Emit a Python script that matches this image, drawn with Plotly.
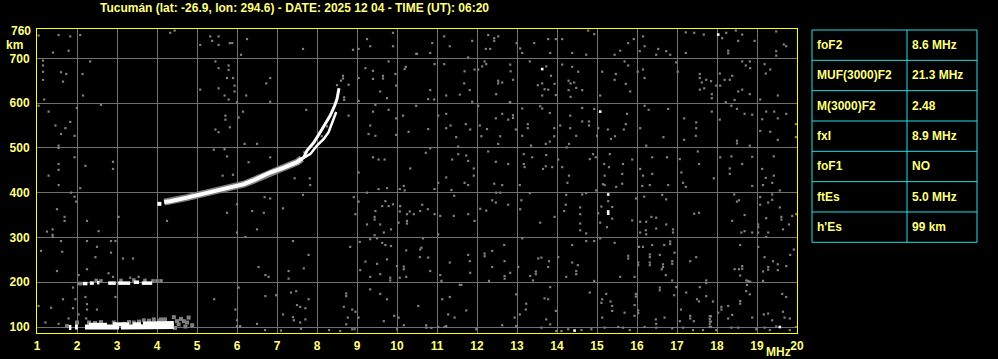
import plotly.graph_objects as go

TITLE = "Tucumán (lat: -26.9, lon: 294.6) - DATE: 2025 12 04 - TIME (UT): 06:20"
FREQ_TICKS = list(range(1, 21))
HEIGHT_TICKS = [100, 200, 300, 400, 500, 600, 700]
TOP_LABEL = "760"
Y_UNIT = "km"
X_UNIT = "MHz"

PARAM_NAMES = ["foF2", "MUF(3000)F2", "M(3000)F2", "fxI", "foF1", "ftEs", "h'Es"]
PARAM_VALUES = ["8.6 MHz", "21.3 MHz", "2.48", "8.9 MHz", "NO", "5.0 MHz", "99 km"]

# F-layer trace (lower thick part), ordinary upper branch, extraordinary branch
F_LOW_FREQ = [4.18, 4.33, 4.75, 5.08, 5.5, 5.83, 6.17, 6.42, 6.83, 7.17, 7.5, 7.62]
F_LOW_H = [379, 381, 389, 396, 404, 411, 419, 428, 445, 456, 468, 476]
F_START_FREQ = [4.06]
F_START_H = [375]
F_O_FREQ = [7.55, 7.67, 7.75, 7.92, 8.08, 8.21, 8.33, 8.44, 8.5, 8.55]
F_O_H = [471, 479, 494, 512, 535, 553, 572, 594, 609, 633]
F_X_FREQ = [7.6, 7.83, 8.0, 8.17, 8.29, 8.42, 8.48]
F_X_H = [474, 486, 505, 520, 535, 564, 580]

# Sporadic E trace (white band), upper part, and its grey halo
E_LOW_FREQ = [1.8, 1.86, None, 1.95, 2.02, None, 2.2, 3.05, None, 3.1, 4.42]
E_LOW_H = [99, 99, None, 100, 100, None, 100, 100, None, 100, 101]
E_UP_FREQ = [2.3, 2.75, None, 2.9, 3.3, None, 3.4, 3.6, None, 3.65, 4.42]
E_UP_H = [105, 105, None, 106, 106, None, 106, 106, None, 108, 109]
E_GRAY_FREQ = [1.75, 2.0, 2.3, 2.6, 2.92, 3.17, 3.42, 3.67, 3.92, 4.2, 4.42, 4.54, 4.67, 4.71,
               4.79, 4.88, 4.5, 4.6, 4.75, 4.45, 3.8, 4.05, 2.45, 3.55, 3.3, 4.1]
E_GRAY_H = [102, 110, 110, 111, 110, 107, 110, 115, 117, 117, 122, 106, 113, 101,
            121, 104, 113, 118, 110, 98, 114, 114, 109, 112, 111, 117]

# Second-hop Es trace near 200 km
ES2_FREQ = [2.15, 2.26, None, 2.32, 2.42, None, 2.5, 2.56, None, 2.78, 2.97, None,
            3.03, 3.33, None, 3.42, 3.55, None, 3.62, 3.88]
ES2_H = [197, 197, None, 198, 198, None, 199, 199, None, 198, 198, None,
         198, 198, None, 200, 200, None, 198, 198]
ES2_GRAY_FREQ = [2.05, 2.1, 2.6, 3.1, 3.7, 3.9, 4.0, 4.1, 2.48, 3.42]
ES2_GRAY_H = [197, 197, 203, 204, 204, 203, 203, 203, 204, 205]

NOISE_UPPER_LEFT = [
    (1.04, 751), (1.54, 752), (1.83, 749), (2.08, 752), (1.4, 713), (1.79, 717), (1.15, 695),
    (1.15, 684), (1.15, 670), (1.6, 669), (1.73, 665), (2.14, 665), (2.33, 693), (1.15, 652),
    (1.65, 648), (2.15, 617), (1.18, 608), (1.04, 594), (1.29, 581), (2.0, 589), (2.6, 596),
    (1.83, 558), (1.46, 550), (1.71, 544), (1.6, 531), (1.94, 527), (1.54, 505), (1.54, 500),
    (1.94, 479), (1.54, 464), (1.54, 451), (2.21, 460), (2.9, 469), (2.9, 453), (1.29, 438),
    (4.33, 757), (4.44, 762), (5.08, 730), (5.33, 749), (5.54, 749), (5.38, 739), (5.54, 730),
    (5.82, 734), (5.88, 734), (6.1, 708), (6.25, 743), (5.46, 693), (5.79, 684), (5.79, 674),
    (5.54, 678), (5.75, 656), (5.9, 656), (5.94, 639), (5.94, 626), (5.54, 633), (5.08, 630),
    (5.69, 617), (5.79, 608), (6.0, 602), (6.23, 617), (6.73, 644), (6.83, 656), (6.83, 603),
    (7.65, 721), (6.15, 581), (6.04, 568), (5.71, 572), (5.71, 563), (5.82, 546), (5.54, 535),
    (5.46, 541), (6.19, 509), (6.5, 509), (5.42, 496), (5.69, 497), (5.75, 481), (6.29, 468),
    (6.83, 479), (5.64, 438), (5.9, 440), (7.82, 432), (7.44, 432), (7.73, 585), (8.65, 661),
    (8.65, 655), (8.79, 641), (8.68, 613), (8.68, 607), (8.79, 572), (8.9, 719), (9.04, 721),
    (9.25, 743), (9.33, 727), (9.9, 757), (9.9, 727), (10.5, 710), (9.79, 693), (9.21, 678),
    (9.4, 672), (9.4, 654), (9.65, 661), (9.65, 655), (9.96, 665), (10.19, 676), (10.22, 681),
    (9.04, 656), (9.58, 626), (9.75, 611), (9.98, 639), (9.04, 605), (9.46, 596), (9.79, 585),
    (9.4, 581), (10.15, 572), (9.98, 566), (9.33, 550), (9.98, 529), (10.29, 536), (9.29, 531),
    (9.46, 527), (9.4, 479), (9.54, 474), (9.69, 474), (10.33, 454), (9.04, 445),
    (7.55, 466), (7.68, 490), (8.12, 526), (8.25, 548), (8.5, 640), (8.6, 650),
]

NOISE_UPPER_RIGHT = [
    (10.48, 710), (10.83, 712), (10.88, 734), (11.18, 749), (11.32, 727), (11.88, 739),
    (12.28, 752), (12.43, 745), (12.43, 739), (12.53, 749), (12.22, 721), (12.33, 721),
    (11.78, 702), (12.99, 734), (13.08, 722), (13.13, 712), (13.43, 734), (13.78, 743),
    (13.97, 743), (13.83, 712), (14.13, 743), (14.38, 712), (14.73, 708), (14.78, 762),
    (14.93, 754), (15.44, 708), (15.58, 717), (15.78, 734), (15.92, 743), (16.15, 749),
    (16.07, 716), (16.19, 727), (16.48, 708), (16.53, 721), (16.73, 716), (16.83, 708),
    (17.22, 758), (17.22, 712), (17.43, 757), (17.67, 753), (18.23, 757), (18.47, 762),
    (18.63, 753), (18.28, 717), (18.28, 711), (18.13, 745), (18.53, 739), (18.94, 739),
    (19.48, 760), (19.48, 716), (19.48, 706), (19.67, 731), (19.73, 727), (10.94, 687),
    (11.18, 687), (10.83, 629), (10.78, 609), (10.93, 608), (11.23, 617), (11.57, 619),
    (11.69, 671), (11.68, 644), (11.82, 629), (11.88, 603), (11.94, 675), (12.03, 675),
    (12.13, 682), (12.19, 693), (12.23, 687), (12.53, 650), (12.53, 644), (12.63, 646),
    (12.48, 620), (12.83, 686), (12.84, 671), (12.9, 652), (12.83, 602), (13.32, 693),
    (13.73, 682), (13.85, 661), (13.52, 640), (13.63, 644), (13.69, 631), (13.78, 630),
    (13.94, 643), (13.63, 617), (13.97, 618), (14.13, 686), (14.38, 681), (14.53, 670),
    (14.29, 650), (14.34, 644), (14.43, 646), (14.48, 634), (14.63, 629), (14.29, 629),
    (14.34, 614), (15.13, 670), (15.47, 665), (15.44, 652), (15.69, 693), (15.78, 684),
    (15.72, 643), (15.83, 626), (15.08, 617), (16.02, 670), (16.15, 675), (16.19, 656),
    (16.98, 691), (17.02, 670), (17.57, 665), (17.57, 656), (17.62, 646), (17.73, 652),
    (17.85, 649), (17.57, 630), (17.68, 633), (17.87, 620), (17.87, 611), (17.98, 639),
    (18.08, 639), (18.07, 666), (18.19, 652), (18.32, 652), (18.38, 661), (18.53, 626),
    (18.63, 630), (18.82, 620), (18.63, 693), (18.82, 693), (18.72, 684), (18.83, 678),
    (19.19, 687), (19.22, 666), (19.33, 675), (19.52, 617), (19.08, 608), (18.44, 607),
    (18.22, 602), (18.36, 594), (10.48, 594), (11.03, 572), (11.23, 576), (10.78, 542),
    (11.23, 544), (11.34, 550), (11.48, 524), (11.72, 553), (11.83, 541), (12.03, 594),
    (12.07, 550), (12.11, 526), (12.25, 542), (12.47, 566), (12.58, 526), (12.53, 509),
    (12.63, 576), (12.78, 563), (12.9, 573), (12.9, 567), (12.97, 541), (12.82, 602),
    (13.13, 588), (13.27, 553), (13.27, 544), (13.13, 527), (13.35, 505), (13.58, 593),
    (13.63, 588), (13.82, 578), (13.93, 544), (13.93, 526), (13.82, 514), (13.72, 509),
    (14.08, 550), (14.33, 572), (14.33, 544), (14.48, 527), (14.3, 509), (14.63, 589),
    (14.63, 559), (14.8, 559), (14.8, 550), (14.93, 587), (15.03, 544), (15.0, 527),
    (15.27, 541), (15.35, 520), (15.45, 526), (15.67, 541), (15.75, 576), (15.72, 553),
    (16.19, 594), (16.29, 585), (16.08, 544), (16.23, 505), (16.78, 587), (16.66, 524),
    (17.18, 566), (17.48, 557), (17.48, 544), (17.47, 527), (17.18, 518), (17.87, 581),
    (18.07, 563), (18.5, 587), (18.69, 576), (18.88, 574), (18.5, 516), (18.5, 510),
    (18.82, 505), (19.13, 564), (19.08, 538), (19.33, 536), (19.43, 581), (19.52, 566),
    (19.73, 576), (19.52, 518), (19.97, 524), (19.97, 553), (19.23, 581), (10.72, 489),
    (10.83, 499), (11.53, 503), (11.53, 486), (11.38, 474), (11.73, 483), (11.78, 471),
    (11.92, 454), (11.92, 438), (11.23, 434), (12.28, 492), (12.47, 469), (12.78, 464),
    (13.17, 486), (13.17, 464), (13.19, 457), (13.38, 479), (13.73, 484), (13.72, 459),
    (13.88, 457), (13.65, 453), (14.03, 474), (14.24, 501), (14.13, 457), (14.3, 438),
    (14.9, 486), (14.97, 479), (14.82, 475), (15.32, 486), (15.18, 464), (15.3, 457),
    (15.19, 438), (15.65, 464), (15.63, 442), (15.88, 474), (16.08, 453), (16.15, 438),
    (16.38, 479), (16.38, 442), (16.75, 479), (17.07, 475), (17.11, 445), (17.52, 492),
    (17.55, 464), (17.92, 432), (18.08, 479), (18.36, 481), (18.32, 454), (18.32, 442),
    (18.63, 464), (18.88, 480), (19.13, 453), (19.42, 481), (19.42, 438), (19.22, 433),
]

NOISE_LOWER_LEFT = [
    (1.54, 417), (2.08, 410), (1.85, 400), (1.94, 391), (1.98, 380), (1.5, 363), (1.69, 346),
    (1.69, 337), (2.25, 337), (3.04, 346), (2.54, 314), (1.25, 313), (1.39, 318), (1.39, 301),
    (1.39, 306), (1.6, 292), (1.1, 270), (1.63, 268), (2.25, 292), (2.85, 292), (2.96, 292),
    (2.5, 279), (2.85, 266), (2.46, 256), (3.15, 253), (3.4, 253), (1.5, 225), (2.25, 229),
    (2.79, 220), (2.04, 216), (2.9, 212), (3.33, 210), (3.54, 212), (1.9, 188), (2.21, 167),
    (1.65, 162), (1.96, 162), (1.04, 147), (1.35, 143), (1.9, 142), (2.25, 139), (2.5, 139),
    (2.04, 128), (2.25, 151), (2.96, 167), (2.23, 119), (1.79, 119), (1.54, 107), (1.21, 110),
    (4.25, 337), (5.75, 355), (6.0, 374), (6.38, 359), (6.67, 355), (6.5, 318), (6.21, 301),
    (6.0, 311), (6.69, 390), (6.83, 387), (7.15, 365), (7.65, 395), (7.83, 417), (7.4, 292),
    (7.79, 261), (6.54, 234), (6.71, 216), (6.79, 212), (7.29, 225), (7.29, 208), (7.67, 231),
    (6.04, 188), (5.43, 162), (5.96, 139), (6.0, 115), (6.08, 102), (6.71, 169), (6.98, 171),
    (6.5, 107), (7.15, 128), (7.35, 177), (7.48, 180), (7.5, 149), (7.58, 145), (7.71, 142),
    (7.42, 115), (7.58, 110), (7.79, 162), (7.4, 122), (7.71, 117), (8.73, 169), (8.73, 175),
    (8.67, 145), (8.88, 139), (8.96, 134), (9.04, 121), (8.77, 121), (8.73, 106), (8.94, 95),
    (9.33, 184), (9.58, 174), (9.75, 162), (9.93, 125), (10.04, 121), (10.17, 104),
    (9.67, 113), (9.83, 204), (9.83, 210), (10.07, 210), (10.17, 229), (10.17, 235),
    (10.23, 212), (10.0, 236), (9.75, 251), (9.5, 241), (9.33, 212), (9.58, 218), (9.21, 246),
    (9.08, 227), (8.83, 279), (9.07, 290), (9.33, 296), (9.5, 298), (9.63, 288), (9.71, 283),
    (9.85, 281), (10.23, 271), (9.67, 311), (9.85, 318), (9.44, 305), (9.25, 329),
    (9.44, 346), (9.44, 340), (9.58, 329), (9.46, 359), (9.63, 370), (9.79, 370), (9.9, 374),
    (10.08, 370), (10.07, 358), (10.25, 352), (10.32, 358), (10.42, 352), (10.25, 337),
    (10.25, 331), (10.04, 333), (10.17, 415), (10.07, 408), (10.19, 405), (9.75, 410),
    (9.54, 408), (9.71, 381), (8.92, 390), (8.96, 352), (9.04, 380), (9.25, 400),
    (6.0, 102), (6.7, 93), (7.1, 92), (7.6, 96), (8.3, 93), (8.58, 91), (8.88, 95), (10.0, 95),
]

NOISE_LOWER_RIGHT = [
    (11.03, 422), (10.94, 408), (10.63, 373), (10.58, 359), (10.77, 363), (10.94, 352),
    (11.08, 348), (11.03, 307), (10.78, 255), (10.61, 277), (10.57, 256), (10.83, 225),
    (11.08, 216), (11.11, 203), (10.53, 147), (11.13, 162), (11.32, 167), (11.28, 128),
    (11.44, 121), (11.61, 194), (11.73, 137), (10.73, 104), (10.86, 98), (11.23, 102),
    (11.36, 406), (11.43, 393), (11.42, 348), (11.69, 422), (11.78, 417), (11.78, 352),
    (11.94, 337), (12.08, 364), (12.23, 360), (12.38, 383), (12.47, 378), (12.48, 400),
    (12.58, 400), (12.43, 420), (12.63, 417), (12.78, 373), (13.07, 417), (13.11, 383),
    (13.08, 363), (13.32, 399), (13.58, 333), (13.94, 346), (14.26, 422), (14.23, 395),
    (14.22, 373), (14.18, 359), (14.58, 367), (14.58, 352), (14.63, 396), (14.73, 399),
    (14.58, 331), (14.58, 316), (14.73, 309), (14.98, 405), (15.15, 419), (15.19, 417),
    (15.48, 413), (15.63, 420), (15.11, 369), (15.28, 381), (15.38, 368), (15.03, 354),
    (15.08, 333), (15.38, 342), (15.25, 323), (15.88, 338), (15.98, 387), (16.13, 415),
    (16.32, 417), (16.18, 391), (16.63, 395), (16.73, 385), (16.78, 417), (17.15, 422),
    (17.22, 413), (16.08, 335), (16.23, 335), (16.36, 346), (16.48, 344), (16.22, 316),
    (16.23, 307), (16.08, 311), (16.48, 320), (16.73, 329), (16.9, 318), (16.9, 311),
    (17.43, 353), (17.55, 355), (18.43, 396), (18.5, 380), (18.55, 383), (18.69, 350),
    (18.38, 337), (18.61, 311), (18.69, 314), (18.88, 415), (18.88, 311), (19.03, 329),
    (19.03, 323), (19.08, 390), (19.08, 373), (19.28, 378), (19.23, 343), (19.38, 384),
    (19.38, 396), (19.57, 367), (19.61, 346), (19.61, 340), (19.65, 318), (19.8, 329),
    (19.88, 348), (19.98, 352), (19.57, 405), (19.38, 422), (19.23, 301), (19.15, 417),
    (19.03, 311), (19.28, 311), (10.65, 298), (10.58, 273), (11.32, 244), (11.78, 261),
    (11.82, 247), (11.83, 221), (12.19, 264), (12.19, 258), (12.38, 270), (12.38, 234),
    (12.68, 283), (12.69, 247), (12.69, 214), (12.69, 208), (12.83, 221), (12.3, 203),
    (13.03, 234), (13.13, 298), (13.33, 214), (13.4, 204), (13.47, 224), (13.47, 218),
    (13.53, 253), (13.61, 255), (13.8, 247), (13.78, 234), (14.03, 256), (14.38, 283),
    (14.38, 244), (14.48, 225), (14.48, 218), (14.52, 238), (14.23, 212), (14.73, 292),
    (14.93, 292), (14.93, 203), (15.08, 298), (15.44, 288), (15.58, 212), (15.78, 259),
    (15.78, 253), (15.94, 212), (16.05, 279), (16.03, 244), (16.03, 238), (16.15, 279),
    (16.32, 262), (16.32, 256), (16.32, 244), (16.32, 238), (16.38, 283), (16.57, 261),
    (16.68, 283), (16.65, 240), (16.65, 234), (16.62, 229), (16.72, 216), (16.83, 291),
    (16.83, 285), (16.94, 266), (16.88, 247), (16.88, 241), (16.88, 204), (17.33, 247),
    (17.48, 256), (17.73, 204), (17.73, 198), (18.58, 283), (18.44, 229), (18.55, 229),
    (18.63, 236), (18.63, 230), (18.58, 215), (18.73, 204), (18.78, 203), (19.03, 279),
    (19.15, 224), (19.19, 256), (19.28, 234), (19.28, 228), (19.4, 247), (19.52, 227),
    (19.52, 240), (19.73, 236), (19.83, 261), (19.92, 273), (19.15, 203), (11.57, 194),
    (12.98, 173), (12.94, 121), (13.07, 128), (13.23, 152), (13.22, 139), (13.69, 164),
    (13.78, 162), (13.83, 189), (13.73, 117), (13.83, 106), (13.97, 136), (14.82, 177),
    (15.13, 162), (15.11, 154), (15.23, 174), (15.34, 157), (15.38, 147), (15.13, 121),
    (15.38, 136), (15.69, 132), (15.94, 149), (16.03, 137), (16.03, 131), (15.94, 125),
    (15.97, 174), (15.97, 168), (16.47, 117), (16.48, 107), (16.69, 121), (16.57, 188),
    (16.57, 182), (16.98, 189), (16.93, 171), (17.23, 177), (17.1, 139), (17.07, 113),
    (17.33, 125), (17.33, 119), (17.42, 113), (17.5, 162), (17.57, 189), (17.55, 157),
    (17.73, 169), (17.9, 157), (17.82, 124), (17.82, 118), (17.82, 112), (17.82, 106),
    (17.82, 100), (17.85, 124), (17.85, 112), (17.85, 100), (18.03, 132), (18.11, 145),
    (18.11, 139), (18.28, 147), (18.38, 127), (18.28, 119), (18.58, 158), (18.58, 152),
    (18.73, 180), (18.82, 173), (18.75, 194), (18.83, 201), (18.88, 121), (19.17, 128),
    (19.28, 130), (19.38, 115), (19.63, 174), (19.73, 167), (19.65, 134), (19.69, 121),
    (19.82, 119), (19.98, 100), (10.73, 98.5), (11.03, 100), (11.19, 100), (11.98, 95),
    (12.63, 104), (12.98, 102), (13.61, 98.5), (13.98, 91), (14.11, 91), (14.28, 95),
    (14.61, 93), (14.86, 95), (15.19, 98.5), (15.53, 100), (15.65, 98.5), (15.82, 93),
    (16.19, 100), (16.48, 98.5), (16.88, 97), (17.15, 98.5), (17.4, 93), (17.65, 93),
    (17.98, 93), (18.36, 98.5), (18.53, 98.5), (18.98, 95), (19.19, 98.5), (19.32, 93),
    (19.48, 101), (19.82, 93),
]

NOISE_WHITE = [(18.03, 753), (13.63, 676), (15.08, 581), (15.28, 396), (15.28, 358),
               (15.28, 353), (19.57, 100), (14.44, 92)]

# ---------------------------------------------------------------- geometry
W, H = 998, 359
ML, MR, MT, MB = 37, 201, 29, 26
PW = W - ML - MR
PH = H - MT - MB
Y_RANGE = [86.6, 765.5]

TEXT_COLOR = "#ffff80"
AXIS_COLOR = "#ffff00"
GRID_COLOR = "#707070"
DOT_COLOR = "#808080"
TABLE_COLOR = "#22e0e6"
FONT = "Liberation Sans"


def px_x(px):
    return (px - ML) / PW


def px_y(py):
    return (H - MB - py) / PH


def unzip(pairs):
    return [p[0] for p in pairs], [p[1] for p in pairs]


fig = go.Figure()

noise_f, noise_h = [], []
for block in (NOISE_UPPER_LEFT, NOISE_UPPER_RIGHT, NOISE_LOWER_LEFT, NOISE_LOWER_RIGHT):
    f, h = unzip(block)
    noise_f += f
    noise_h += h

fig.add_trace(go.Scatter(x=noise_f, y=noise_h, mode="markers",
                         marker=dict(symbol="square", size=2.2, color=DOT_COLOR,
                                     line=dict(width=0))))
wf, wh = unzip(NOISE_WHITE)
fig.add_trace(go.Scatter(x=wf, y=wh, mode="markers",
                         marker=dict(symbol="square", size=2.6, color="white",
                                     line=dict(width=0))))

# grey halos
fig.add_trace(go.Scatter(x=E_GRAY_FREQ, y=E_GRAY_H, mode="markers",
                         marker=dict(symbol="square", size=4, color=DOT_COLOR,
                                     line=dict(width=0))))
fig.add_trace(go.Scatter(x=ES2_GRAY_FREQ, y=ES2_GRAY_H, mode="markers",
                         marker=dict(symbol="square", size=3.5, color=DOT_COLOR,
                                     line=dict(width=0))))
fig.add_trace(go.Scatter(x=F_LOW_FREQ, y=F_LOW_H, mode="lines",
                         line=dict(color=DOT_COLOR, width=7)))

# white traces
fig.add_trace(go.Scatter(x=E_LOW_FREQ, y=E_LOW_H, mode="lines",
                         line=dict(color="white", width=5)))
fig.add_trace(go.Scatter(x=E_UP_FREQ, y=E_UP_H, mode="lines",
                         line=dict(color="white", width=4)))
fig.add_trace(go.Scatter(x=ES2_FREQ, y=ES2_H, mode="lines",
                         line=dict(color="white", width=3.5)))
fig.add_trace(go.Scatter(x=F_LOW_FREQ, y=F_LOW_H, mode="lines",
                         line=dict(color="white", width=4)))
fig.add_trace(go.Scatter(x=F_START_FREQ, y=F_START_H, mode="markers",
                         marker=dict(symbol="square", size=4, color="white",
                                     line=dict(width=0))))
fig.add_trace(go.Scatter(x=F_O_FREQ, y=F_O_H, mode="lines",
                         line=dict(color="white", width=3)))
fig.add_trace(go.Scatter(x=F_X_FREQ, y=F_X_H, mode="lines",
                         line=dict(color="white", width=2.5)))

tickfont = dict(family=FONT, size=12, color=TEXT_COLOR, weight="bold")

fig.update_layout(
    width=W, height=H,
    margin=dict(l=ML, r=MR, t=MT, b=MB, pad=0, autoexpand=False),
    paper_bgcolor="black", plot_bgcolor="black",
    showlegend=False,
    xaxis=dict(range=[1, 20], tickmode="array", tickvals=FREQ_TICKS,
               ticktext=[str(v) for v in FREQ_TICKS], showgrid=True,
               gridcolor=GRID_COLOR, gridwidth=1, zeroline=False,
               showline=True, mirror=True, linecolor=AXIS_COLOR, linewidth=1,
               ticks="", tickfont=tickfont, ticklabelstandoff=2, fixedrange=True,
               automargin=False),
    yaxis=dict(range=Y_RANGE, tickmode="array", tickvals=HEIGHT_TICKS,
               ticktext=[str(v) for v in HEIGHT_TICKS], showgrid=True,
               gridcolor=GRID_COLOR, gridwidth=1, zeroline=False,
               showline=True, mirror=True, linecolor=AXIS_COLOR, linewidth=1,
               ticks="", tickfont=tickfont, ticklabelstandoff=4, fixedrange=True,
               automargin=False),
)

annotations = [
    dict(text=TITLE, x=px_x(294), y=px_y(8), xref="paper", yref="paper",
         xanchor="center", yanchor="middle", showarrow=False,
         font=dict(family=FONT, size=12, color=TEXT_COLOR, weight="bold")),
    dict(text=TOP_LABEL, x=px_x(33), y=px_y(31), xref="paper", yref="paper",
         xanchor="right", yanchor="middle", showarrow=False, font=tickfont),
    dict(text=Y_UNIT, x=px_x(4), y=px_y(45), xref="paper", yref="paper",
         xanchor="left", yanchor="middle", showarrow=False, font=tickfont),
    dict(text=X_UNIT, x=px_x(764), y=px_y(352), xref="paper", yref="paper",
         xanchor="left", yanchor="middle", showarrow=False, font=tickfont),
]

shapes = []
T_LEFT, T_MID, T_RIGHT = 812, 907, 977
T_TOP, ROW_H = 30, 30.33
n = len(PARAM_NAMES)
shapes.append(dict(type="rect", xref="paper", yref="paper",
                   x0=px_x(T_LEFT), x1=px_x(T_RIGHT), y0=px_y(T_TOP), y1=px_y(T_TOP + n * ROW_H),
                   line=dict(color=TABLE_COLOR, width=1)))
shapes.append(dict(type="line", xref="paper", yref="paper",
                   x0=px_x(T_MID), x1=px_x(T_MID), y0=px_y(T_TOP), y1=px_y(T_TOP + n * ROW_H),
                   line=dict(color=TABLE_COLOR, width=1)))
for i in range(1, n):
    yy = px_y(T_TOP + i * ROW_H)
    shapes.append(dict(type="line", xref="paper", yref="paper",
                       x0=px_x(T_LEFT), x1=px_x(T_RIGHT), y0=yy, y1=yy,
                       line=dict(color=TABLE_COLOR, width=1)))
for i, (name, val) in enumerate(zip(PARAM_NAMES, PARAM_VALUES)):
    yc = px_y(T_TOP + (i + 0.5) * ROW_H)
    annotations.append(dict(text=name, x=px_x(815), y=yc, xref="paper", yref="paper",
                            xanchor="left", yanchor="middle", showarrow=False, font=tickfont))
    annotations.append(dict(text=val, x=px_x(910), y=yc, xref="paper", yref="paper",
                            xanchor="left", yanchor="middle", showarrow=False, font=tickfont))

fig.update_layout(annotations=annotations, shapes=shapes)

fig.write_html("out.html")
